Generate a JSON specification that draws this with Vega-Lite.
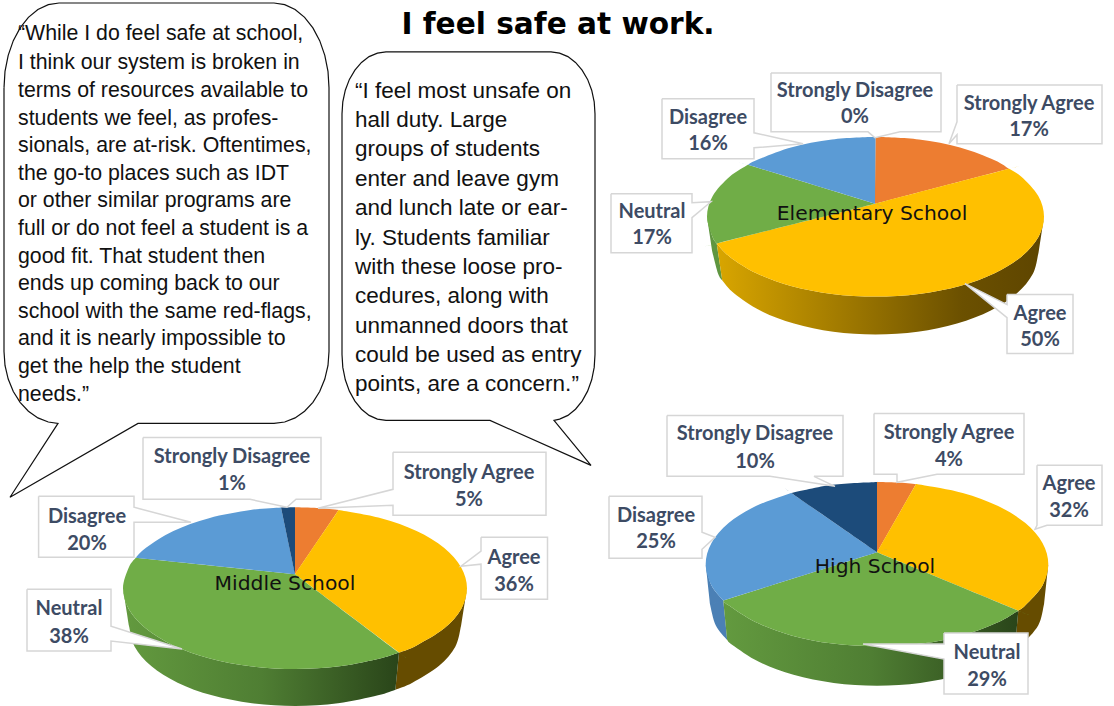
{
"$schema":"https://vega.github.io/schema/vega-lite/v6.json",
"width":1114,"height":706,"padding":0,"autosize":{"type":"fit","contains":"padding"},
"background":"white","view":{"stroke":null},
"datasets":{
"slices":[
{"school":"Elementary School","category":"Strongly Agree","value":17,"xs":[875,875,875,875.5,875.5,875.5,919,960,994.6,1009,1009,1009],"ys":[204,204,204,137,137,137,139.7,147.7,160.4,169,169,169]},
{"school":"Elementary School","category":"Agree","value":50,"xs":[875,875,875,1009,1009,1009,1021.4,1038.3,1044,1038.3,1021.4,994.6,960,919,875.5,832,791,756.4,729.6,716.7,716.7,716.7],"ys":[204,204,204,169,169,169,177,196.3,217,237.7,257,273.6,286.3,294.3,297,294.3,286.3,273.6,257,243.8,243.8,243.8]},
{"school":"Elementary School","category":"Neutral","value":17,"xs":[875,875,875,716.7,716.7,716.7,712.7,707,712.7,729.6,748,748,748],"ys":[204,204,204,243.8,243.8,243.8,237.7,217,196.3,177,165,165,165]},
{"school":"Elementary School","category":"Disagree","value":16,"xs":[875,875,875,748,748,748,756.4,791,832,875.5,875.5,875.5],"ys":[204,204,204,165,165,165,160.4,147.7,139.7,137,137,137]},
{"school":"Middle School","category":"Strongly Agree","value":5,"xs":[295,295,295,295,295,295,317,338.6,338.6,338.6],"ys":[575,575,575,508,508,508,508.7,510.7,510.7,510.7]},
{"school":"Middle School","category":"Agree","value":36,"xs":[295,295,295,338.6,338.6,338.6,381,416.6,444,461.1,467,461.1,444,416.6,399,399,399],"ys":[575,575,575,510.7,510.7,510.7,518.9,531.7,548.5,568,589,610,629.5,646.3,653.5,653.5,653.5]},
{"school":"Middle School","category":"Neutral","value":38,"xs":[295,295,295,399,399,399,381,339.5,295,250.5,209,173.4,146,128.9,123,128.9,135.7,135.7,135.7],"ys":[575,575,575,653.5,653.5,653.5,659.1,667.2,670,667.2,659.1,646.3,629.5,610,589,568,558.5,558.5,558.5]},
{"school":"Middle School","category":"Disagree","value":20,"xs":[295,295,295,135.7,135.7,135.7,146,173.4,209,250.5,281,281,281],"ys":[575,575,575,558.5,558.5,558.5,548.5,531.7,518.9,510.8,508.3,508.3,508.3]},
{"school":"Middle School","category":"Strongly Disagree","value":1,"xs":[295,295,295,281,281,281,295,295,295],"ys":[575,575,575,508.3,508.3,508.3,508,508,508]},
{"school":"High School","category":"Strongly Agree","value":4,"xs":[877,877,877,877,877,877,897,916,916,916],"ys":[553,553,553,482.7,482.7,482.7,483.2,484.8,484.8,484.8]},
{"school":"High School","category":"Agree","value":32,"xs":[877,877,877,916,916,916,921.3,962.7,998.1,1025.4,1042.5,1048.3,1042.5,1025.4,1018.3,1018.3,1018.3],"ys":[553,553,553,484.8,484.8,484.8,485.5,493.7,506.8,523.8,543.7,565,586.3,606.2,611.5,611.5,611.5]},
{"school":"High School","category":"Neutral","value":29,"xs":[877,877,877,1018.3,1018.3,1018.3,998.1,962.7,921.3,877,832.7,791.3,755.9,728.6,723.3,723.3,723.3],"ys":[553,553,553,611.5,611.5,611.5,623.2,636.3,644.5,647.3,644.5,636.3,623.2,606.2,601.3,601.3,601.3]},
{"school":"High School","category":"Disagree","value":25,"xs":[877,877,877,723.3,723.3,723.3,711.5,705.7,711.5,728.6,755.9,791.3,791.3,791.3],"ys":[553,553,553,601.3,601.3,601.3,586.3,565,543.7,523.8,506.8,493.7,493.7,493.7]},
{"school":"High School","category":"Strongly Disagree","value":10,"xs":[877,877,877,791.3,791.3,791.3,832.7,877,877,877],"ys":[553,553,553,493.7,493.7,493.7,485.5,482.7,482.7,482.7]}
],
"rims":[
{"school":"Elementary School","category":"Neutral","xs":[716.7,716.7,716.7,712.7,707,707,707,712.5,712.5,712.5,718.1,722.3,722.3,722.3],"ys":[243.8,243.8,243.8,237.7,217,217,217,253,253,253,274.2,281,281,281]},
{"school":"Elementary School","category":"Agree","xs":[1044,1044,1044,1038.3,1021.4,994.6,960,919,875.5,832,791,756.4,729.6,716.7,716.7,716.7,722.3,722.3,722.3,734.3,760.2,794,833.3,875.5,917.7,957,990.8,1016.7,1032.9,1038.5,1038.5,1038.5],"ys":[217,217,217,237.7,257,273.6,286.3,294.3,297,294.3,286.3,273.6,257,243.8,243.8,243.8,281,281,281,294,311,324,332.2,335,332.2,324,311,294,274.2,253,253,253]},
{"school":"Middle School","category":"Agree","xs":[467,467,467,461.1,444,416.6,399,399,399,395.4,395.4,395.4,412.4,438.8,455.3,461,461,461],"ys":[589,589,589,610,629.5,646.3,653.5,653.5,653.5,690.7,690.7,690.7,683.6,667,647.7,627,627,627]},
{"school":"Middle School","category":"Neutral","xs":[399,399,399,381,339.5,295,250.5,209,173.4,146,128.9,123,123,123,129,129,129,134.7,151.2,177.6,212,252,295,338,378,395.4,395.4,395.4],"ys":[653.5,653.5,653.5,659.1,667.2,670,667.2,659.1,646.3,629.5,610,589,589,589,627,627,627,647.7,667,683.6,696.3,704.3,707,704.3,696.3,690.7,690.7,690.7]},
{"school":"High School","category":"Agree","xs":[1048.3,1048.3,1048.3,1042.5,1025.4,1018.3,1018.3,1018.3,1014.8,1014.8,1014.8,1021.6,1038.3,1044,1044,1044],"ys":[565,565,565,586.3,606.2,611.5,611.5,611.5,651.2,651.2,651.2,645.9,626.1,605,605,605]},
{"school":"High School","category":"Neutral","xs":[1018.3,1018.3,1018.3,998.1,962.7,921.3,877,832.7,791.3,755.9,728.6,723.3,723.3,723.3,727.2,727.2,727.2,732.4,758.9,793.5,833.7,877,920.3,960.5,995.1,1014.8,1014.8,1014.8],"ys":[611.5,611.5,611.5,623.2,636.3,644.5,647.3,644.5,636.3,623.2,606.2,601.3,601.3,601.3,641,641,641,645.9,662.8,675.8,683.9,686.7,683.9,675.8,662.8,651.2,651.2,651.2]},
{"school":"High School","category":"Disagree","xs":[723.3,723.3,723.3,711.5,705.7,705.7,705.7,710,710,710,715.7,727.2,727.2,727.2],"ys":[601.3,601.3,601.3,586.3,565,565,565,605,605,605,626.1,641,641,641]}
],
"callouts":[
{"school":"Elementary School","category":"Strongly Disagree","xs":[771,941,941,900,875,868,771,771],"ys":[73,73,132,132,138,132,132,73]},
{"school":"Elementary School","category":"Strongly Agree","xs":[957,1102,1102,957,957,949,957,957],"ys":[85,85,144,144,135,144,122,85]},
{"school":"Elementary School","category":"Disagree","xs":[662,754,754,803,754,754,662,662],"ys":[99,99,133,144,148,159,159,99]},
{"school":"Elementary School","category":"Neutral","xs":[611,692,692,711,692,692,611,611],"ys":[194,194,203,202,218,253,253,194]},
{"school":"Elementary School","category":"Agree","xs":[1007,1073,1073,1007,1007,965,1007,1007],"ys":[295,295,354,354,318,284,305,295]},
{"school":"Middle School","category":"Strongly Disagree","xs":[143,321,321,296,287,250,143,143],"ys":[438,438,500,500,508,500,500,438]},
{"school":"Middle School","category":"Strongly Agree","xs":[393,546,546,393,393,318,393,393],"ys":[453,453,516,516,506,509,490,453]},
{"school":"Middle School","category":"Agree","xs":[481,547.5,547.5,481,481,461,481,481],"ys":[538,538,600,600,565,567,552,538]},
{"school":"Middle School","category":"Disagree","xs":[38.6,134,134,191,134,134,38.6,38.6],"ys":[497,497,508,523,523,558,558,497]},
{"school":"Middle School","category":"Neutral","xs":[27,111,111,182,111,111,27,27],"ys":[590,590,627,650,642,652,652,590]},
{"school":"High School","category":"Strongly Disagree","xs":[667,843,843,814,835,770,667,667],"ys":[416,416,477,477,487,477,477,416]},
{"school":"High School","category":"Strongly Agree","xs":[874,1024,1024,937,897,897,874,874],"ys":[414,414,475,475,483,475,475,414]},
{"school":"High School","category":"Agree","xs":[1037,1102,1102,1047,1035,1037,1037],"ys":[466,466,526,526,530,526,466]},
{"school":"High School","category":"Disagree","xs":[609,702,702,715,702,702,609,609],"ys":[497,497,533,538,550,559,559,497]},
{"school":"High School","category":"Neutral","xs":[944,1028,1028,944,944,863,944,944],"ys":[634,634,695,695,660,645,645,634]}
],
"labels":[
{"school":"Elementary School","category":"Strongly Disagree","pct":"0%","x":855,"y":90,"y2":116},
{"school":"Elementary School","category":"Strongly Agree","pct":"17%","x":1029,"y":103,"y2":129},
{"school":"Elementary School","category":"Disagree","pct":"16%","x":708,"y":117,"y2":143},
{"school":"Elementary School","category":"Neutral","pct":"17%","x":652,"y":211,"y2":237},
{"school":"Elementary School","category":"Agree","pct":"50%","x":1040,"y":313,"y2":339},
{"school":"Middle School","category":"Strongly Disagree","pct":"1%","x":232,"y":456,"y2":483},
{"school":"Middle School","category":"Strongly Agree","pct":"5%","x":469,"y":472,"y2":499},
{"school":"Middle School","category":"Agree","pct":"36%","x":514,"y":557,"y2":584},
{"school":"Middle School","category":"Disagree","pct":"20%","x":87,"y":516,"y2":543},
{"school":"Middle School","category":"Neutral","pct":"38%","x":69,"y":608,"y2":636},
{"school":"High School","category":"Strongly Disagree","pct":"10%","x":755,"y":433,"y2":461},
{"school":"High School","category":"Strongly Agree","pct":"4%","x":949,"y":432,"y2":459},
{"school":"High School","category":"Agree","pct":"32%","x":1069,"y":483,"y2":510},
{"school":"High School","category":"Disagree","pct":"25%","x":656,"y":515,"y2":541},
{"school":"High School","category":"Neutral","pct":"29%","x":987,"y":652,"y2":679}
],
"names":[
{"text":"Elementary School","x":872,"y":213},
{"text":"Middle School","x":285,"y":584},
{"text":"High School","x":875,"y":567}
],
"bubbles":[
{"quote":"a","xs":[4,5,8.2,13.3,20.1,28.4,37.9,48.3,59,274,284.7,295.1,304.6,312.9,319.7,324.8,328,329,329,328,324.8,319.7,312.9,304.6,295.1,284.7,274,138,10,58,48.3,37.9,28.4,20.1,13.3,8.2,5,4,4],"ys":[88,71.4,55.4,40.7,27.9,17.4,9.5,4.6,3,3,4.6,9.5,17.4,27.9,40.7,55.4,71.4,88,352,366,379.6,392,402.9,411.8,418.5,422.6,424,424,498,424,422.6,418.5,411.8,402.9,392,379.6,366,352,88]},
{"quote":"b","xs":[342,342.8,345.3,349.4,354.9,361.5,369.1,377.4,386,551,559.6,567.9,575.5,582.1,587.6,591.7,594.2,595,595,594.2,591.7,587.6,582.1,575.5,567.9,559.6,554,591,490,386,377.4,369.1,361.5,354.9,349.4,345.3,342.8,342,342],"ys":[114,101.9,90.3,79.5,70.2,62.5,56.7,53.2,52,52,53.2,56.7,62.5,70.2,79.5,90.3,101.9,114,355,367.9,380.3,391.7,401.7,409.8,416,419.7,421,466,421,421,419.7,416,409.8,401.7,391.7,380.3,367.9,355,114]}
],
"quotes":[
{"quote":"a","text":"“While I do feel safe at school,","x":18,"y":33},
{"quote":"a","text":"I think our system is broken in","x":18,"y":62},
{"quote":"a","text":"terms of resources available to","x":18,"y":90},
{"quote":"a","text":"students we feel, as profes-","x":18,"y":118},
{"quote":"a","text":"sionals, are at-risk. Oftentimes,","x":18,"y":145},
{"quote":"a","text":"the go-to places such as IDT","x":18,"y":173},
{"quote":"a","text":"or other similar programs are","x":18,"y":200},
{"quote":"a","text":"full or do not feel a student is a","x":18,"y":228},
{"quote":"a","text":"good fit. That student then","x":18,"y":256},
{"quote":"a","text":"ends up coming back to our","x":18,"y":283},
{"quote":"a","text":"school with the same red-flags,","x":18,"y":311},
{"quote":"a","text":"and it is nearly impossible to","x":18,"y":338},
{"quote":"a","text":"get the help the student","x":18,"y":366},
{"quote":"a","text":"needs.”","x":18,"y":394},
{"quote":"b","text":"“I feel most unsafe on","x":355,"y":90},
{"quote":"b","text":"hall duty. Large","x":355,"y":119},
{"quote":"b","text":"groups of students","x":355,"y":148},
{"quote":"b","text":"enter and leave gym","x":355,"y":178},
{"quote":"b","text":"and lunch late or ear-","x":355,"y":207},
{"quote":"b","text":"ly. Students familiar","x":355,"y":237},
{"quote":"b","text":"with these loose pro-","x":355,"y":266},
{"quote":"b","text":"cedures, along with","x":355,"y":295},
{"quote":"b","text":"unmanned doors that","x":355,"y":325},
{"quote":"b","text":"could be used as entry","x":355,"y":354},
{"quote":"b","text":"points, are a concern.”","x":355,"y":383}
],
"heading":[{"text":"I feel safe at work.","x":558,"y":24}]
},
"encoding":{
"x":{"field":"x","type":"quantitative","axis":null,"scale":{"domain":[0,1114],"nice":false,"zero":false}},
"y":{"field":"y","type":"quantitative","axis":null,"scale":{"domain":[706,0],"nice":false,"zero":false}}
},
"resolve":{"scale":{"color":"independent"}},
"layer":[
{"data":{"name":"rims"},"transform":[{"flatten":["xs","ys"],"as":["x","y"]},{"filter":"(datum.school==='Middle School'||datum.school==='High School')&&datum.category!=='Neutral'||datum.school==='Elementary School'&&datum.category==='Neutral'"}],
"mark":{"type":"line","filled":true,"interpolate":"cardinal","tension":0},
"encoding":{"order":{"value":null},"detail":{"field":"school"},"color":{"field":"category","legend":null,"scale":{"domain":["Agree","Neutral","Disagree"],"range":["#664C00","#5F9640","#4B80B5"]}}}},
{"data":{"name":"rims"},"transform":[{"flatten":["xs","ys"],"as":["x","y"]},{"filter":"datum.school==='Elementary School'&&datum.category==='Agree'"}],
"mark":{"type":"line","interpolate":"cardinal","tension":0,"fill":{"gradient":"linear","x1":0,"x2":1,"y1":0,"y2":0,"stops":[{"offset":0,"color":"#D9A600"},{"offset":0.75,"color":"#6B5000"},{"offset":1,"color":"#5E4500"}]},"stroke":null},
"encoding":{"order":{"value":null}}},
{"data":{"name":"rims"},"transform":[{"flatten":["xs","ys"],"as":["x","y"]},{"filter":"datum.school!=='Elementary School'&&datum.category==='Neutral'"}],
"mark":{"type":"line","interpolate":"cardinal","tension":0,"fill":{"gradient":"linear","x1":0,"x2":1,"y1":0,"y2":0,"stops":[{"offset":0,"color":"#639A3F"},{"offset":0.5,"color":"#4F7E33"},{"offset":1,"color":"#294419"}]},"stroke":null},
"encoding":{"order":{"value":null},"detail":{"field":"school"}}},
{"data":{"name":"slices"},"transform":[{"flatten":["xs","ys"],"as":["x","y"]}],
"mark":{"type":"line","filled":true,"interpolate":"cardinal","tension":0},
"encoding":{"order":{"value":null},"detail":{"field":"school"},"color":{"field":"category","legend":null,"scale":{"domain":["Strongly Agree","Agree","Neutral","Disagree","Strongly Disagree"],"range":["#ED7D31","#FFC000","#70AD47","#5B9BD5","#1C4B7A"]}}}},
{"data":{"name":"callouts"},"transform":[{"flatten":["xs","ys"],"as":["x","y"]}],
"mark":{"type":"line","fill":"white","stroke":"#D6D6D6","strokeWidth":1.5},
"encoding":{"order":{"value":null},"detail":[{"field":"school"},{"field":"category"}]}},
{"data":{"name":"names"},"mark":{"type":"text","font":"DejaVu Sans","fontSize":20.3,"dy":1,"color":"#111111"},"encoding":{"text":{"field":"text"}}},
{"data":{"name":"labels"},"mark":{"type":"text","font":"Lato","fontWeight":"bold","fontSize":20,"dy":1.5,"color":"#3D4B64"},"encoding":{"text":{"field":"category"}}},
{"data":{"name":"labels"},"mark":{"type":"text","font":"Lato","fontWeight":"bold","fontSize":20,"dy":1.5,"color":"#3D4B64"},"encoding":{"y":{"field":"y2","type":"quantitative"},"text":{"field":"pct"}}},
{"data":{"name":"bubbles"},"transform":[{"flatten":["xs","ys"],"as":["x","y"]}],
"mark":{"type":"line","fill":"white","stroke":"#111111","strokeWidth":1.2},
"encoding":{"order":{"value":null},"detail":{"field":"quote"}}},
{"data":{"name":"quotes"},"transform":[{"filter":"datum.quote==='a'"}],"mark":{"type":"text","font":"Liberation Sans","fontSize":21.3,"dy":1.5,"align":"left","color":"#111111"},"encoding":{"text":{"field":"text"}}},
{"data":{"name":"quotes"},"transform":[{"filter":"datum.quote==='b'"}],"mark":{"type":"text","font":"Liberation Sans","fontSize":22.5,"dy":1.5,"align":"left","color":"#111111"},"encoding":{"text":{"field":"text"}}},
{"data":{"name":"heading"},"mark":{"type":"text","font":"DejaVu Sans","fontWeight":"bold","fontSize":29.6,"dy":1,"color":"#000000"},"encoding":{"text":{"field":"text"}}}
]
}
